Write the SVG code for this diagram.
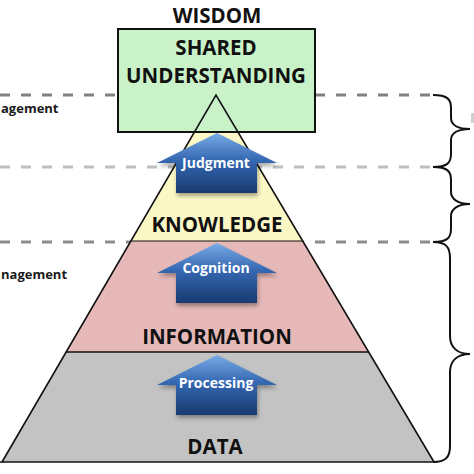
<svg xmlns="http://www.w3.org/2000/svg" width="474" height="474" viewBox="0 0 474 474">
<defs>
<linearGradient id="blue" x1="0" y1="0" x2="0" y2="1">
<stop offset="0" stop-color="#79abe6"/>
<stop offset="0.45" stop-color="#3568b3"/>
<stop offset="1" stop-color="#1a3a70"/>
</linearGradient>
<filter id="sh" x="-20%" y="-20%" width="140%" height="150%">
<feDropShadow dx="1" dy="3" stdDeviation="2" flood-color="#000" flood-opacity="0.35"/>
</filter>
<path id="arrow" d="M0,0 L60,30 L40,30 L40,60 L-41,60 L-41,30 L-60,30 Z"/>
</defs>
<style>
.dash{fill:none;stroke-width:3;stroke-dasharray:10 11}
.big{font-family:"Open Sans","Liberation Sans",sans-serif;font-weight:bold;font-size:20.5px;fill:#111;text-anchor:middle}
.lbl{font-family:"Open Sans","Liberation Sans",sans-serif;font-weight:bold;font-size:14px;fill:#fff;text-anchor:middle}
.side{font-family:"Open Sans","Liberation Sans",sans-serif;font-weight:bold;font-size:13px;fill:#1a1a1a;text-anchor:start}
.brace{fill:none;stroke:#111;stroke-width:2}
.arr{fill:url(#blue);filter:url(#sh)}
</style>
<rect width="474" height="474" fill="#fff"/>
<g id="connectors">
<line class="dash" x1="0" y1="95" x2="430" y2="95" stroke="#808080"/>
<line class="dash" x1="0" y1="167" x2="430" y2="167" stroke="#c0c0c0"/>
<line class="dash" x1="0" y1="242" x2="430" y2="242" stroke="#8c8c8c"/>
<path class="brace" d="M433,95 C447,95 451,99 451,108 L451,118 C451,125 458,129 470,129 C458,129 451,133 451,140 L451,154 C451,163 447,167 433,167"/>
<path class="brace" d="M433,167 C447,167 451,171 451,180 L451,192 C451,199 458,204 470,204 C458,204 451,209 451,216 L451,229 C451,238 447,242 433,242"/>
<path class="brace" d="M433,242 C446,242 450,247 450,258 L450,336 C450,347 457,354 470,354 C457,354 450,361 450,372 L450,446 C450,457 446,462 433,462"/>
</g>
<g id="data">
<polygon points="66,352 369,352 434,462 2,462" fill="#c3c3c3"/>
</g>
<g id="information">
<polygon points="131,241 303,241 369,352 66,352" fill="#e6b9b8"/>
</g>
<g id="knowledge">
<polygon points="216,95 303,241 131,241" fill="#fcf8c6"/>
</g>
<g id="wisdom">
<rect x="118" y="29" width="197" height="103" fill="#c9f2c9" stroke="#111" stroke-width="2"/>
<text class="big" x="217" y="23">WISDOM</text>
<text class="big" x="216" y="55">SHARED</text>
<text class="big" x="216" y="83">UNDERSTANDING</text>
</g>
<g id="outline" fill="none" stroke="#111" stroke-width="1.6">
<polyline points="2,462 216,95 434,462"/>
<line x1="131" y1="241" x2="303" y2="241" stroke-width="1.2"/>
<line x1="66" y1="352" x2="369" y2="352"/>
<line x1="0" y1="462" x2="436" y2="462"/>
</g>
<g id="judgment">
<use href="#arrow" class="arr" transform="translate(217,133)"/>
<text class="lbl" x="216" y="168">Judgment</text>
</g>
<g id="cognition">
<use href="#arrow" class="arr" transform="translate(217,243)"/>
<text class="lbl" x="216" y="273">Cognition</text>
</g>
<g id="processing">
<use href="#arrow" class="arr" transform="translate(217,355)"/>
<text class="lbl" x="216" y="388">Processing</text>
</g>
<g id="labels">
<text class="big" x="217" y="232">KNOWLEDGE</text>
<text class="big" x="217" y="344">INFORMATION</text>
<text class="big" x="215" y="454">DATA</text>
<text class="side" x="1" y="113">agement</text>
<text class="side" x="1" y="279">nagement</text>
<rect x="471" y="113" width="3" height="10" fill="#cfcfcf"/>
</g>
</svg>
